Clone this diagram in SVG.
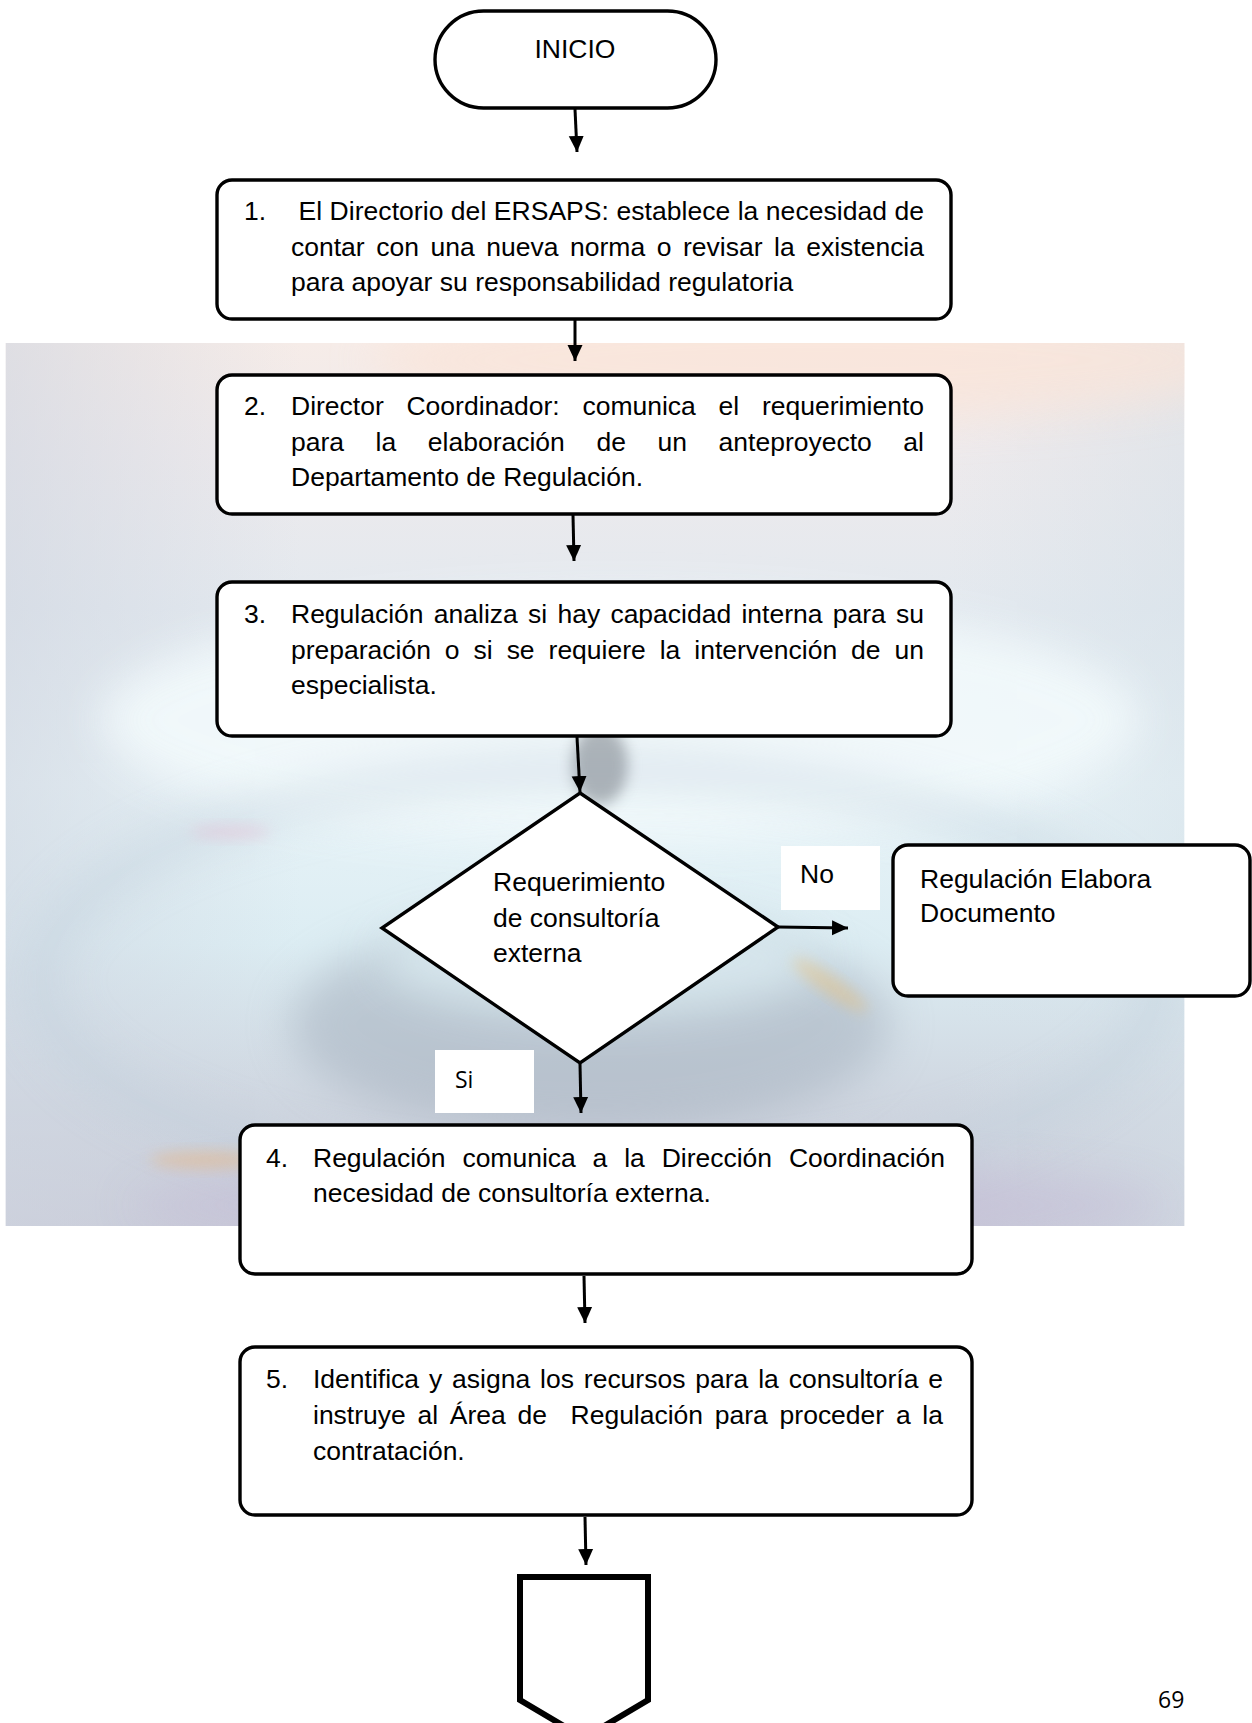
<svg xmlns="http://www.w3.org/2000/svg" width="1252" height="1723" viewBox="0 0 1252 1723">
  <style>
    .box { fill: #ffffff; stroke: #000000; stroke-width: 3.4; }
    .term { fill: #ffffff; stroke: #000000; stroke-width: 3.4; }
    .txt { font-family: "Liberation Sans", Arial, Helvetica, sans-serif; font-size: 26.5px; fill: #000000; }
    .cal { font-family: "Open Sans", Lato, sans-serif; font-size: 23px; fill: #000000; }
    .conn { fill: none; stroke: #000000; stroke-width: 3; marker-end: url(#arrow); }
    .tag { fill: #ffffff; }
  </style>
  <defs>
    <marker id="arrow" markerUnits="userSpaceOnUse" markerWidth="17" markerHeight="17" viewBox="0 0 17 17" refX="16" refY="8" orient="auto">
      <path d="M0,0.5 L16,8 L0,15.5 Z" fill="#000000"/>
    </marker>
    <linearGradient id="bgV" x1="0" y1="0" x2="0" y2="1">
      <stop offset="0" stop-color="#f6ece8"/>
      <stop offset="0.12" stop-color="#eeeaec"/>
      <stop offset="0.3" stop-color="#e3e9ef"/>
      <stop offset="0.5" stop-color="#e8f3f7"/>
      <stop offset="0.68" stop-color="#dcedf3"/>
      <stop offset="0.86" stop-color="#cfd6e0"/>
      <stop offset="1" stop-color="#c9cbd8"/>
    </linearGradient>
    <linearGradient id="bgH" x1="0" y1="0" x2="1" y2="0">
      <stop offset="0" stop-color="#cfd5e0" stop-opacity="0.6"/>
      <stop offset="0.25" stop-color="#cfd5e0" stop-opacity="0"/>
      <stop offset="0.8" stop-color="#d5e0e8" stop-opacity="0"/>
      <stop offset="1" stop-color="#d5e0e8" stop-opacity="0.5"/>
    </linearGradient>
    <filter id="soft" x="-50%" y="-50%" width="200%" height="200%">
      <feGaussianBlur stdDeviation="22"/>
    </filter>
    <filter id="soft2" x="-50%" y="-50%" width="200%" height="200%">
      <feGaussianBlur stdDeviation="7"/>
    </filter>
    <clipPath id="bgClip">
      <rect x="5.5" y="343" width="1179" height="883"/>
    </clipPath>
  </defs>

  <rect x="0" y="0" width="1252" height="1723" fill="#ffffff"/>

  <!-- faded water-ripple backdrop behind the middle of the chart -->
  <g id="backdrop" clip-path="url(#bgClip)">
    <rect x="5.5" y="343" width="1179" height="883" fill="url(#bgV)"/>
    <rect x="5.5" y="343" width="1179" height="883" fill="url(#bgH)"/>
    <ellipse cx="820" cy="360" rx="450" ry="60" fill="#fbe4d8" opacity="0.7" filter="url(#soft)"/>
    <ellipse cx="620" cy="720" rx="520" ry="120" fill="#f3fafc" opacity="0.85" filter="url(#soft)"/>
    <ellipse cx="600" cy="980" rx="560" ry="210" fill="none" stroke="#bfcfdb" stroke-width="30" opacity="0.5" filter="url(#soft)"/>
    <ellipse cx="590" cy="1025" rx="300" ry="110" fill="#a0acba" opacity="0.5" filter="url(#soft)"/>
    <ellipse cx="600" cy="960" rx="220" ry="55" fill="#dcecf2" opacity="0.8" filter="url(#soft)"/>
    <ellipse cx="600" cy="765" rx="28" ry="40" fill="#6f767e" opacity="0.5" filter="url(#soft2)"/>
    <ellipse cx="650" cy="1205" rx="520" ry="45" fill="#c2b9d6" opacity="0.45" filter="url(#soft)"/>
    <ellipse cx="830" cy="985" rx="45" ry="9" transform="rotate(35 830 985)" fill="#f2c06a" opacity="0.4" filter="url(#soft2)"/>
    <ellipse cx="205" cy="1160" rx="55" ry="9" fill="#eeb070" opacity="0.4" filter="url(#soft2)"/>
    <ellipse cx="230" cy="832" rx="40" ry="7" fill="#e8b8d0" opacity="0.4" filter="url(#soft2)"/>
  </g>

  <g id="connectors">
    <line class="conn" x1="575" y1="109" x2="577" y2="152"/>
    <line class="conn" x1="575" y1="320" x2="575" y2="361"/>
    <line class="conn" x1="573" y1="515" x2="574" y2="561"/>
    <line class="conn" x1="577" y1="737" x2="580" y2="792"/>
    <line class="conn" x1="778" y1="927" x2="848" y2="928"/>
    <line class="conn" x1="580" y1="1064" x2="581" y2="1113"/>
    <line class="conn" x1="584" y1="1276" x2="585" y2="1323"/>
    <line class="conn" x1="585" y1="1517" x2="586" y2="1565"/>
  </g>

  <g id="start">
    <rect class="term" x="435" y="11" width="281" height="97" rx="48.5" ry="48.5"/>
    <text class="txt" x="575" y="58" text-anchor="middle">INICIO</text>
  </g>

  <g id="step1">
    <rect class="box" x="217" y="180" width="734" height="139" rx="15"/>
    <text class="txt" x="244" y="220">1.</text>
    <text class="txt" x="298.5" y="220" textLength="625.5" lengthAdjust="spacing">El Directorio del ERSAPS: establece la necesidad de</text>
    <text class="txt" x="291" y="255.5" style="word-spacing:4.2px" textLength="633" lengthAdjust="spacing">contar con una nueva norma o revisar la existencia</text>
    <text class="txt" x="291" y="291">para apoyar su responsabilidad regulatoria</text>
  </g>

  <g id="step2">
    <rect class="box" x="217" y="375" width="734" height="139" rx="15"/>
    <text class="txt" x="244" y="415">2.</text>
    <text class="txt" x="291" y="415" style="word-spacing:15.4px" textLength="633" lengthAdjust="spacing">Director Coordinador: comunica el requerimiento</text>
    <text class="txt" x="291" y="450.5" style="word-spacing:24.2px" textLength="633" lengthAdjust="spacing">para la elaboración de un anteproyecto al</text>
    <text class="txt" x="291" y="486">Departamento de Regulación.</text>
  </g>

  <g id="step3">
    <rect class="box" x="217" y="582" width="734" height="154" rx="15"/>
    <text class="txt" x="244" y="623">3.</text>
    <text class="txt" x="291" y="623" style="word-spacing:2.9px" textLength="633" lengthAdjust="spacing">Regulación analiza si hay capacidad interna para su</text>
    <text class="txt" x="291" y="658.5" style="word-spacing:6.6px" textLength="633" lengthAdjust="spacing">preparación o si se requiere la intervención de un</text>
    <text class="txt" x="291" y="694">especialista.</text>
  </g>

  <g id="decision">
    <polygon class="box" points="580,793 778,927 580,1063 382,928"/>
    <text class="txt" x="493" y="891">Requerimiento</text>
    <text class="txt" x="493" y="926.5">de consultoría</text>
    <text class="txt" x="493" y="962">externa</text>
  </g>

  <g id="label-no">
    <rect class="tag" x="781" y="846" width="99" height="64"/>
    <text class="txt" x="800" y="883">No</text>
  </g>

  <g id="label-si">
    <rect class="tag" x="435" y="1050" width="99" height="63"/>
    <text class="cal" x="455" y="1088">Si</text>
  </g>

  <g id="internal-draft">
    <rect class="box" x="893" y="845" width="357" height="151" rx="15"/>
    <text class="txt" x="920" y="888">Regulación Elabora</text>
    <text class="txt" x="920" y="922">Documento</text>
  </g>

  <g id="step4">
    <rect class="box" x="240" y="1125" width="732" height="149" rx="15"/>
    <text class="txt" x="266" y="1167">4.</text>
    <text class="txt" x="313" y="1167" style="word-spacing:9.5px" textLength="632" lengthAdjust="spacing">Regulación comunica a la Dirección Coordinación</text>
    <text class="txt" x="313" y="1202">necesidad de consultoría externa.</text>
  </g>

  <g id="step5">
    <rect class="box" x="240" y="1347" width="732" height="168" rx="15"/>
    <text class="txt" x="266" y="1388">5.</text>
    <text class="txt" x="313" y="1388" style="word-spacing:2.5px" textLength="630" lengthAdjust="spacing">Identifica y asigna los recursos para la consultoría e</text>
    <text class="txt" x="313" y="1424" xml:space="preserve" style="word-spacing:4.4px" textLength="630" lengthAdjust="spacing">instruye al Área de  Regulación para proceder a la</text>
    <text class="txt" x="313" y="1460">contratación.</text>
  </g>

  <g id="page-connector">
    <path d="M520,1577 L648,1577 L648,1700 L584,1738 L520,1700 Z" fill="#ffffff" stroke="#000000" stroke-width="6" stroke-linejoin="miter"/>
  </g>

  <g id="page-number">
    <text class="cal" x="1158" y="1708">69</text>
  </g>
</svg>
